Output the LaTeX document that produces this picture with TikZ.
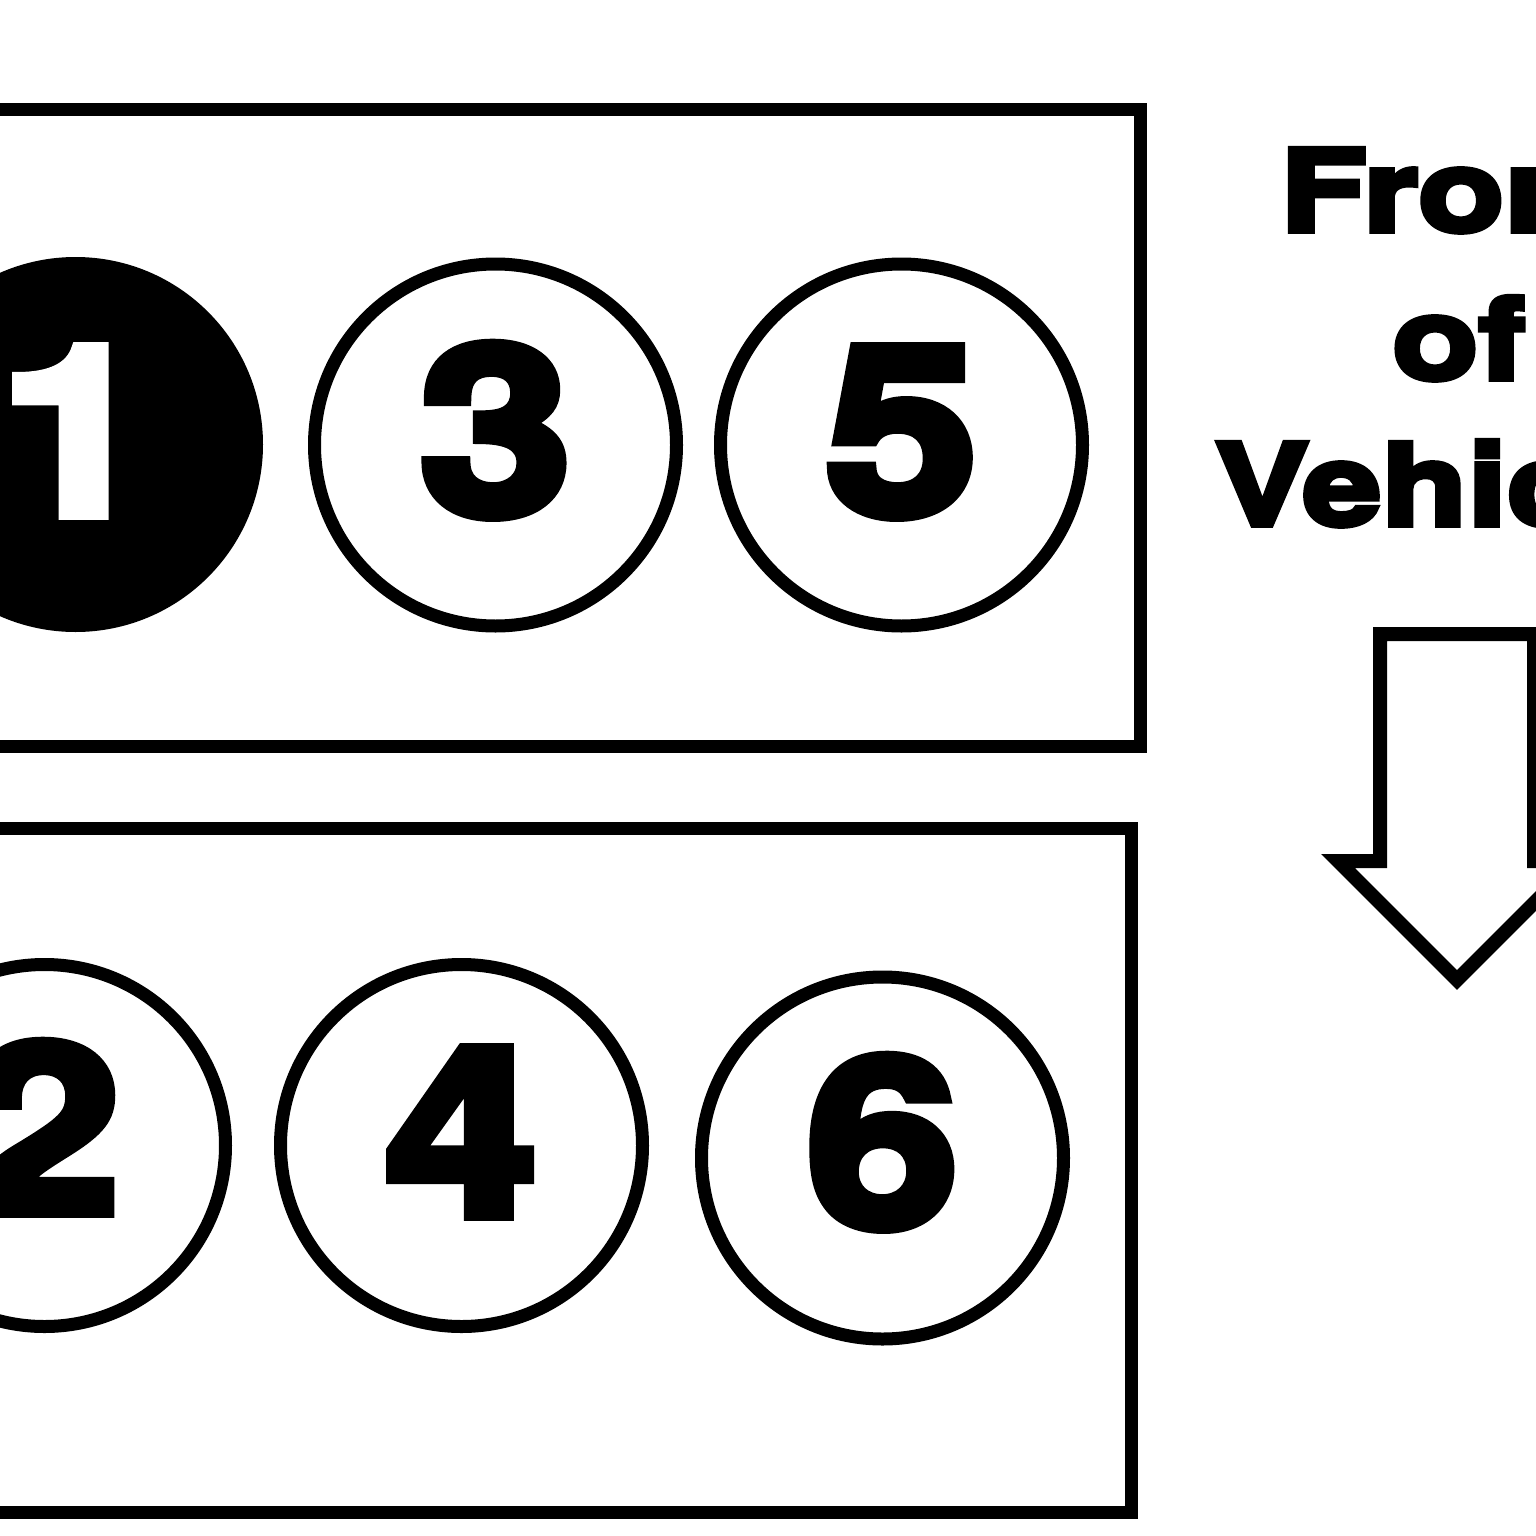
\documentclass[tikz,border=0pt]{standalone}
\usepackage{fontspec}
\newfontfamily\digitfont{texgyreheros-bold.otf}[FakeBold=5,FakeStretch=1.17]
\newfontfamily\labelfont{texgyreheros-bold.otf}[FakeBold=5,FakeStretch=1.25]
\begin{document}
\begin{tikzpicture}[x=1pt,y=-1pt,
  frame/.style={draw=black,line width=13pt,line join=miter},
  cyl/.style={circle,draw=black,line width=13pt,minimum size=362pt,inner sep=0pt,fill=white},
  firing/.style={cyl,fill=black},
  num/.style={anchor=base,inner sep=0pt,font=\digitfont\fontsize{234}{234}\selectfont,text=black,line join=miter,miter limit=2},
  lbl/.style={anchor=base,inner sep=0pt,font=\labelfont\fontsize{113}{113}\selectfont,text=black,line join=miter,miter limit=2},
  arrowshape/.style={draw=black,fill=white,line width=14pt,line join=miter,miter limit=10}]
\useasboundingbox (0,0) rectangle (1536,1536);
\clip (0,0) rectangle (1536,1536);
\fill[white] (0,0) rectangle (1536,1536);
% banks
\draw[frame] (-60,109.5) rectangle (1140,746.5);
\draw[frame] (-60,828.5) rectangle (1131,1512);
% cylinders, top bank
\node[firing] (c1) at (75.5,444.5) {};
\node[cyl] (c3) at (495.5,445) {};
\node[cyl] (c5) at (901.5,445) {};
% cylinders, bottom bank
\node[cyl] (c2) at (44.5,1145.5) {};
\node[cyl] (c4) at (461.5,1145.5) {};
\node[cyl] (c6) at (882.5,1158) {};
% numbers
\node[num,text=white] (n1) at (75.5,514) {1};
\node[num] (n3) at (495.5,514) {3};
\node[num] (n5) at (901.5,514) {5};
\node[num] (n2) at (44.5,1212) {2};
\node[num] (n4) at (461.5,1215) {4};
\node[num] (n6) at (882.5,1226) {6};
% label
\node[lbl] (t1) at (1459,231) {Front};
\node[lbl] (t2) at (1459,379) {of};
\node[lbl] (t3) at (1459,525) {Vehicle};
% arrow
\draw[arrowshape] (1380,634) -- (1534,634) -- (1534,861) -- (1576,861)
  -- (1457,980) -- (1338,861) -- (1380,861) -- cycle;
\end{tikzpicture}
\end{document}
